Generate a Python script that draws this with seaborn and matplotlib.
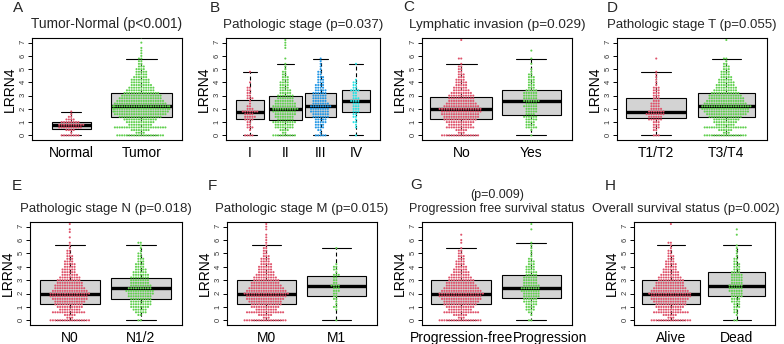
#!/usr/bin/env python3

import numpy as np
import pandas as pd
import matplotlib

matplotlib.use("Agg")
import matplotlib.pyplot as plt
import matplotlib.transforms as mtransforms
import seaborn as sns

sns.set_theme(style="ticks")
plt.rcParams["font.family"] = ["Liberation Sans", "DejaVu Sans"]

# LRRN4 expression on a 0.2 grid; each list below is the number of
# points sitting on each grid level, read off the swarms
levels = [0.0, 0.2, 0.4, 0.6, 0.8, 1.0, 1.2, 1.4, 1.6, 1.8,
          2.0, 2.2, 2.4, 2.6, 2.8, 3.0, 3.2, 3.4, 3.6, 3.8,
          4.0, 4.2, 4.4, 4.6, 4.8, 5.0, 5.2, 5.4, 5.6, 5.8,
          6.0, 6.2, 6.4, 6.6, 6.8, 7.0, 7.2, 7.4]
y_ticks = [0, 1, 2, 3, 4, 5, 6, 7]

normal_counts = [8, 1, 4, 10, 11, 8, 4, 2, 1, 1]
tumor_counts = [20, 4, 8, 22, 10, 12, 14, 18, 22, 24, 25, 26, 22, 20, 18, 17, 15, 12, 11, 9,
                8, 8, 6, 5, 5, 4, 3, 2, 2, 2, 1, 1, 1, 1, 0, 1, 0, 1]

stage1_counts = [4, 0, 1, 3, 2, 2, 4, 5, 4, 7, 3, 2, 1, 1, 3, 2, 2, 2, 2, 0, 1, 0, 0, 0, 1]
stage2_counts = [10, 2, 4, 8, 8, 10, 7, 8, 9, 10, 11, 10, 9, 8, 7, 7, 5, 5, 4, 4,
                 4, 3, 3, 2, 2, 1, 1, 1, 0, 1, 0, 0, 0, 1, 1, 1, 1]
stage3_counts = [5, 1, 2, 4, 4, 5, 5, 7, 7, 8, 8, 9, 7, 6, 6, 6, 6, 5, 4, 4,
                 3, 3, 3, 2, 2, 1, 1, 1, 1, 1]
stage4_counts = [1, 0, 0, 1, 1, 2, 1, 2, 2, 3, 3, 3, 3, 4, 3, 2, 2, 4, 2, 2,
                 2, 1, 0, 0, 0, 0, 0, 1]

lymph_no_counts = [16, 3, 5, 12, 10, 12, 14, 15, 16, 17, 18, 15, 13, 11, 11, 11, 9, 7, 6, 5,
                   5, 4, 3, 3, 2, 2, 2, 1, 0, 2, 0, 0, 0, 0, 0, 0, 1]
lymph_yes_counts = [1, 0, 1, 5, 4, 4, 5, 6, 4, 5, 5, 6, 5, 7, 6, 6, 6, 5, 3, 3,
                    3, 3, 3, 2, 1, 1, 0, 1, 0, 1, 0, 0, 1]

t12_counts = [3, 0, 2, 3, 3, 3, 6, 6, 8, 7, 5, 4, 4, 3, 3, 3, 3, 3, 3, 1,
              1, 1, 1, 1, 1, 0, 0, 0, 0, 1]
t34_counts = [18, 3, 6, 18, 8, 10, 11, 14, 17, 19, 20, 21, 18, 16, 15, 14, 12, 10, 9, 8,
              7, 6, 5, 4, 4, 3, 3, 2, 1, 2, 0, 0, 0, 0, 0, 0, 1]

n0_counts = [17, 3, 5, 14, 9, 11, 12, 13, 15, 16, 17, 15, 13, 12, 11, 10, 9, 7, 6, 6,
             5, 5, 4, 3, 3, 2, 2, 1, 1, 1, 0, 1, 0, 1, 1, 0, 1]
n12_counts = [2, 0, 2, 5, 6, 8, 9, 9, 9, 10, 11, 12, 10, 9, 8, 8, 8, 7, 6, 5,
              4, 4, 3, 3, 2, 2, 1, 1, 1, 2]

m0_counts = [18, 3, 6, 16, 9, 12, 13, 14, 16, 17, 19, 17, 15, 13, 12, 11, 10, 8, 7, 6,
             6, 5, 4, 4, 3, 2, 2, 2, 1, 1, 1, 1, 1, 0, 1, 1, 1]
m1_counts = [1, 0, 0, 0, 1, 2, 1, 1, 2, 2, 2, 3, 3, 4, 2, 2, 2, 3, 1, 2,
             2, 1, 0, 0, 0, 0, 0, 1]

pfree_counts = [18, 3, 6, 15, 10, 12, 14, 15, 17, 18, 19, 17, 15, 13, 12, 11, 10, 8, 7, 6,
                5, 4, 4, 3, 3, 2, 2, 1, 0, 1, 1, 0, 1]
prog_counts = [2, 0, 1, 2, 4, 4, 5, 6, 6, 7, 7, 8, 8, 7, 6, 6, 6, 5, 5, 4,
               4, 3, 3, 2, 1, 1, 1, 1, 1, 1, 0, 0, 0, 0, 1, 0, 1]

alive_counts = [17, 3, 6, 15, 10, 12, 13, 14, 16, 17, 18, 16, 14, 12, 12, 11, 10, 8, 7, 6,
                5, 5, 4, 3, 3, 2, 2, 1, 1, 2, 0, 0, 0, 0, 0, 0, 1]
dead_counts = [2, 0, 1, 2, 2, 3, 3, 4, 4, 5, 5, 6, 6, 6, 5, 5, 5, 5, 4, 3,
               3, 3, 2, 2, 1, 1, 1, 1, 1, 0, 0, 0, 1, 0, 1]

panel_letters = ["A", "B", "C", "D", "E", "F", "G", "H"]
panel_titles = [
    "Tumor-Normal (p<0.001)",
    "Pathologic stage (p=0.037)",
    "Lymphatic invasion (p=0.029)",
    "Pathologic stage T (p=0.055)",
    "Pathologic stage N (p=0.018)",
    "Pathologic stage M (p=0.015)",
    "(p=0.009)\nProgression free survival status",
    "Overall survival status (p=0.002)",
]
panel_groups = [
    ["Normal", "Tumor"],
    ["I", "II", "III", "IV"],
    ["No", "Yes"],
    ["T1/T2", "T3/T4"],
    ["N0", "N1/2"],
    ["M0", "M1"],
    ["Progression-free", "Progression"],
    ["Alive", "Dead"],
]
panel_counts = [
    [normal_counts, tumor_counts],
    [stage1_counts, stage2_counts, stage3_counts, stage4_counts],
    [lymph_no_counts, lymph_yes_counts],
    [t12_counts, t34_counts],
    [n0_counts, n12_counts],
    [m0_counts, m1_counts],
    [pfree_counts, prog_counts],
    [alive_counts, dead_counts],
]

# layout (pixels in the 784x344 figure): axes left, top, right, bottom
W, H = 784, 344
axes_px = [(32, 38, 182, 140), (226, 38, 380, 140), (422, 38, 572, 140), (617, 38, 767, 140),
           (30, 222, 182, 325), (227, 222, 377, 325), (422, 222, 572, 325), (634, 222, 775, 325)]
letter_px = [(13, 12), (210, 12), (403, 11), (607, 12),
             (12, 190), (208, 190), (410, 189), (605, 190)]
title_x = [0.5, 0.5, 0.5, 0.5, 0.5, 0.5, 0.5, 0.37]
title_size = [9.9, 9.6, 9.7, 9.5, 9.5, 9.5, 9.0, 9.4]
box_widths = [[0.56, 0.88], [0.81, 0.95, 0.87, 0.81], [0.88, 0.85], [0.85, 0.82],
              [0.84, 0.84], [0.84, 0.84], [0.85, 0.85], [0.87, 0.86]]
palette = ["#DF536B", "#61D04F", "#2297E6", "#28E2E5"]


def draw_panel(ax, groups, counts, widths):
    frames = []
    for g, c in zip(groups, counts):
        vals = np.repeat(levels[:len(c)], c)
        frames.append(pd.DataFrame({"group": g, "LRRN4": vals}))
    df = pd.concat(frames, ignore_index=True)

    for g, w in zip(groups, widths):
        sns.boxplot(
            data=df[df["group"] == g], x="group", y="LRRN4", order=groups,
            width=w, color="#D3D3D3", linecolor="black", linewidth=0.8,
            saturation=1, showfliers=False,
            whiskerprops={"linestyle": (0, (3.5, 2.5))},
            medianprops={"linewidth": 2.4},
            ax=ax,
        )
    # an invisible edge keeps the swarm spacing a bit wider than the dots
    sns.swarmplot(
        data=df, x="group", y="LRRN4", hue="group", order=groups,
        hue_order=groups, palette=palette[:len(groups)], size=1.5,
        linewidth=0.15, edgecolor="none",
        legend=False, zorder=3, warn_thresh=1, ax=ax,
    )


fig = plt.figure(figsize=(W / 100, H / 100), dpi=100)
fig.patch.set_facecolor("white")

for i in range(8):
    l, t, r, b = axes_px[i]
    ax = fig.add_axes([l / W, 1 - b / H, (r - l) / W, (b - t) / H])
    groups = panel_groups[i]
    draw_panel(ax, groups, panel_counts[i], box_widths[i])

    n = len(groups)
    if n == 2:
        ax.set_xlim(-0.56, 1.58)
    else:
        ax.set_xlim(-0.68, 3.68)
    ax.set_ylim(-0.35, 7.35)
    ax.set_yticks(y_ticks)
    ax.set_yticklabels([str(v) for v in y_ticks])
    ax.tick_params(axis="y", labelsize=5.5, length=3, width=0.7, pad=1,
                   labelrotation=90, color="black", labelcolor="#333333")
    ax.tick_params(axis="x", length=0, labelsize=10, pad=4, labelcolor="black")
    ax.set_xlabel("")
    ax.set_ylabel("LRRN4", fontsize=10, labelpad=1.5, color="black")
    for s in ax.spines.values():
        s.set_color("black")
        s.set_linewidth(0.8)
    ax.set_title(panel_titles[i], fontsize=title_size[i], pad=7, x=title_x[i],
                 linespacing=1.3)

    if i == 6:
        # long labels sit side by side, the second one nudged right
        lab = ax.get_xticklabels()[1]
        lab.set_transform(lab.get_transform()
                          + mtransforms.ScaledTranslation(0.19, 0, fig.dpi_scale_trans))

    lx, ly = letter_px[i]
    fig.text(lx / W, 1 - ly / H, panel_letters[i], fontsize=11, va="baseline", ha="left")

fig.savefig("out.png", dpi=100)
